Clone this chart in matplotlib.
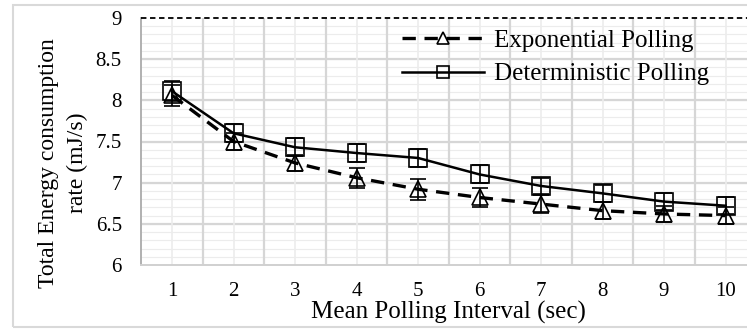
import matplotlib.pyplot as plt
from matplotlib.lines import Line2D
from matplotlib.patches import Rectangle
from matplotlib.ticker import MultipleLocator, FixedLocator, FuncFormatter

plt.rcParams["font.family"] = ["Liberation Serif", "DejaVu Serif"]

# data
intervals = [1, 2, 3, 4, 5, 6, 7, 8, 9, 10]
exp_polling = [8.06, 7.5, 7.24, 7.06, 6.92, 6.82, 6.74, 6.66, 6.62, 6.6]
exp_err = [0.13, 0.1, 0.1, 0.12, 0.13, 0.11, 0.11, 0.1, 0.1, 0.1]
det_polling = [8.11, 7.6, 7.43, 7.36, 7.3, 7.1, 6.96, 6.87, 6.77, 6.72]
det_err = [0.12, 0.11, 0.11, 0.11, 0.11, 0.11, 0.1, 0.1, 0.1, 0.1]

dash = (0, (4, 2.6))

fig = plt.figure(figsize=(7.47, 3.29), dpi=100)
# light chart-area border like the spreadsheet frame
fig.patches.append(Rectangle((13 / 747, 0.005), 1.2, 1 - 0.005 - 5 / 329,
                             transform=fig.transFigure, fill=False,
                             edgecolor="#d9d9d9", linewidth=1.5))

ax = fig.add_axes([141.3 / 747, 1 - 265 / 329, 615 / 747, (265 - 18) / 329])

ax.errorbar(intervals, exp_polling, yerr=exp_err, color="black", linestyle=dash,
            linewidth=2.4, marker="^", markersize=12, markerfacecolor="none",
            markeredgewidth=1.2, capsize=5.5, elinewidth=1.2, capthick=1.2, zorder=3)
ax.errorbar(intervals, det_polling, yerr=det_err, color="black", linestyle="-",
            linewidth=1.8, marker="s", markersize=13, markerfacecolor="none",
            markeredgewidth=1.2, capsize=5.5, elinewidth=1.2, capthick=1.2, zorder=4)

ax.set_xlim(0.5, 10.5)
ax.set_ylim(6, 9)
ax.xaxis.set_major_locator(FixedLocator(intervals))
ax.yaxis.set_major_locator(MultipleLocator(0.5))
ax.yaxis.set_major_formatter(FuncFormatter(lambda v, pos: f"{v:g}"))
ax.tick_params(axis="both", which="both", length=0, labelsize=15)
ax.tick_params(axis="x", pad=12)
ax.tick_params(axis="y", pad=14)

# grid: major lines every 0.5, minor every 0.1, vertical at category edges
for y in [i / 10 for i in range(61, 90)]:
    ax.axhline(y, color="#ececec", linewidth=0.8, zorder=0)
for y in [6.5, 7, 7.5, 8, 8.5]:
    ax.axhline(y, color="#d6d6d6", linewidth=1.6, zorder=0)
for x in intervals:
    ax.axvline(x, color="#ececec", linewidth=1.2, zorder=0)
    ax.axvline(x + 0.5, color="#d6d6d6", linewidth=1.6, zorder=0)
ax.axhline(9, color="black", linewidth=1.3, linestyle=(0, (3, 2)), zorder=5, clip_on=False)

for side in ["top", "right"]:
    ax.spines[side].set_visible(False)
ax.spines["left"].set_color("#b0b0b0")
ax.spines["left"].set_linestyle((0, (3, 1)))
ax.spines["left"].set_linewidth(1.4)
ax.spines["bottom"].set_color("#d0d0d0")
ax.spines["bottom"].set_linewidth(1.4)

ax.set_xlabel("Mean Polling Interval (sec)", fontsize=18, labelpad=0)
ax.set_ylabel("Total Energy consumption\nrate (mJ/s)", fontsize=17, linespacing=1.5)
ax.yaxis.set_label_coords(-0.0867, 0.413)

handles = [
    Line2D([], [], color="black", linestyle=dash, linewidth=2.4, marker="^",
           markersize=8, markerfacecolor="none", markeredgewidth=1.2),
    Line2D([], [], color="black", linestyle="-", linewidth=1.8, marker="s",
           markersize=8, markerfacecolor="none", markeredgewidth=1.2),
]
ax.legend(handles, ["Exponential Polling", "Deterministic Polling"], loc="upper left",
          bbox_to_anchor=(238 / 615, 1.046), frameon=False, fontsize=18,
          handlelength=3.3, handletextpad=0.4, labelspacing=0.45)

fig.savefig("out.png", dpi=100)
